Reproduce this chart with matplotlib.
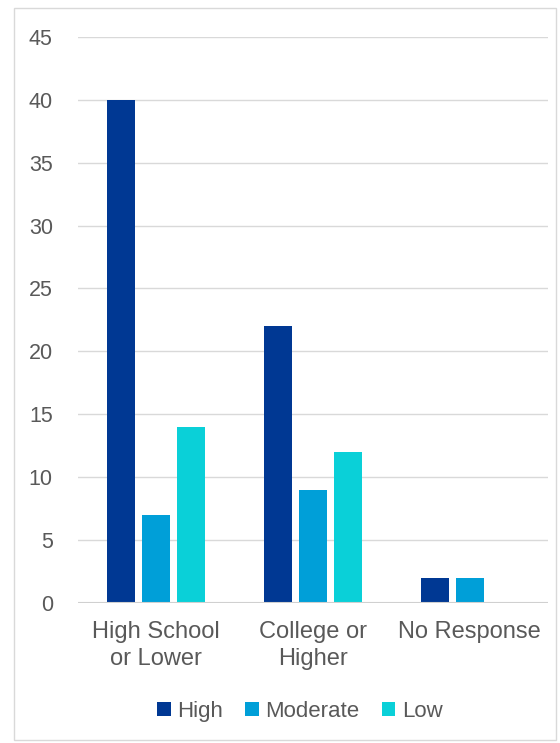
import matplotlib.pyplot as plt
import numpy as np
from matplotlib.patches import Rectangle

# data
categories = ['High School\nor Lower', 'College or\nHigher', 'No Response']
high = [40, 22, 2]
moderate = [7, 9, 2]
low = [14, 12, 0]
series_names = ['High', 'Moderate', 'Low']
colors = ['#003893', '#009FD8', '#0AD0D8']

plt.rcParams['font.family'] = ['Liberation Sans', 'DejaVu Sans']

fig = plt.figure(figsize=(5.6, 7.43), dpi=100)
ax = fig.add_axes([0.139, 0.1884, 0.84, 0.762])

x = np.arange(len(categories))
w = 0.18
step = 0.223
for i, (vals, name, c) in enumerate(zip([high, moderate, low], series_names, colors)):
    ax.bar(x + (i - 1) * step, vals, width=w, color=c, label=name, zorder=3)

ax.set_xlim(-0.5, 2.5)
ax.set_ylim(0, 45)
ax.set_yticks(range(0, 50, 5))
ax.grid(axis='y', color='#d9d9d9', linewidth=1, zorder=0)
ax.axhline(0, color='#d0d0d0', linewidth=1.5, zorder=4)
for s in ax.spines.values():
    s.set_visible(False)
ax.tick_params(axis='both', length=0, colors='#595959')
ax.tick_params(axis='y', labelsize=15.5, pad=18)
ax.tick_params(axis='x', labelsize=17, pad=13)
ax.set_xticks(x)
ax.set_xticklabels(categories, linespacing=1.3)

ax.legend(loc='center', bbox_to_anchor=(0.472, -0.192), ncol=3, frameon=False,
          fontsize=16, handlelength=0.6, handleheight=0.6, handletextpad=0.3,
          columnspacing=1.0, labelcolor='#595959')

fig.patches.append(Rectangle((0.025, 0.004), 0.968, 0.985, transform=fig.transFigure,
                             fill=False, edgecolor='#d9d9d9', linewidth=1))

fig.savefig('out.png', dpi=100)
